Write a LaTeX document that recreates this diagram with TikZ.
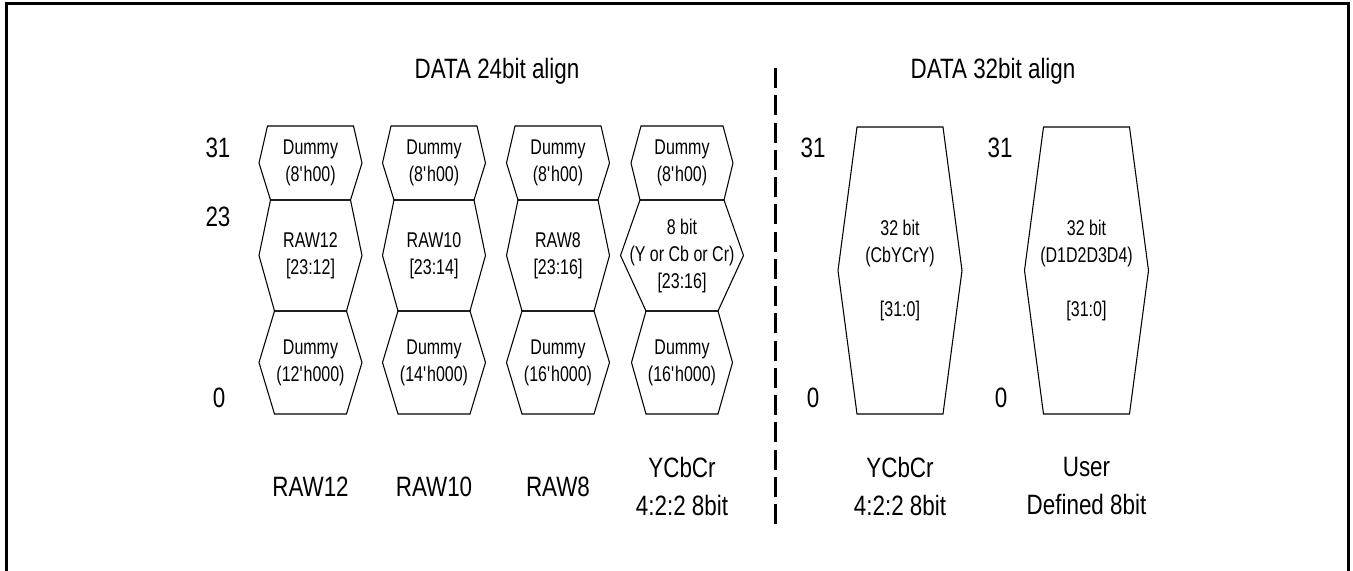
\documentclass[tikz,border=0pt]{standalone}
\usepackage{fontspec}
\setmainfont{Liberation Sans}[FakeStretch=0.8]
\newfontfamily\cellfont{Liberation Sans}[FakeStretch=0.75]
% one hexagonal bit field: name, centre x, top y, bottom y, top half width, bottom half width, tip half width, text
\newcommand{\bitcell}[8]{%
  \draw[cell] (#2-#5,#3) -- (#2+#5,#3) -- (#2+#7,{(#3+#4)/2}) -- (#2+#6,#4) -- (#2-#6,#4) -- (#2-#7,{(#3+#4)/2}) -- cycle;
  \node[celltext] (#1) at (#2,{(#3+#4)/2}) {#8};}
\newcommand{\q}{\textquotesingle}
\begin{document}
\begin{tikzpicture}[x=0.75pt, y=-0.75pt, every node/.style={font=\fontsize{21}{28.5}\selectfont}]
  \tikzstyle{cell}=[draw,line width=0.8pt,line join=miter]
  \tikzstyle{celltext}=[align=center,inner sep=0pt,font=\cellfont\fontsize{16}{20.25}\selectfont]
  \tikzstyle{lbl}=[align=center,inner sep=0pt]
  \useasboundingbox (0,0) rectangle (1353,571);
  \draw[line width=2.25pt] (6,576) -- (6,3.5) -- (1348,3.5) -- (1348,576);
  % titles
  \node[lbl,anchor=base] (t24) at (497,78) {DATA 24bit align};
  \node[lbl,anchor=base] (t32) at (993,78) {DATA 32bit align};
  % separator
  \coordinate (sepTop) at (775,68);
  \coordinate (sepBot) at (775,524);
  \draw[line width=2.25pt,dash pattern=on 15pt off 5.45pt] (sepTop) -- (sepBot);
  % bit numbers
  \node[lbl,anchor=base] (b31) at (218,157) {31};
  \node[lbl,anchor=base] (b23) at (218,226) {23};
  \node[lbl,anchor=base] (b0) at (219,407) {0};
  \node[lbl,anchor=base] (c31) at (813,157) {31};
  \node[lbl,anchor=base] (c0) at (813,407) {0};
  \node[lbl,anchor=base] (d31) at (1000,157) {31};
  \node[lbl,anchor=base] (d0) at (1001,407) {0};
  % RAW12
  \bitcell{r12top}{310.5}{126}{200}{43}{40}{51.5}{Dummy\\(8\q h00)}
  \bitcell{r12mid}{310.5}{200}{311}{40}{36}{51.5}{RAW12\\ {[23:12]}}
  \bitcell{r12bot}{310.5}{311}{414}{36}{36}{51.5}{Dummy\\(12\q h000)}
  % RAW10
  \bitcell{r10top}{434}{126}{200}{43}{40}{51.5}{Dummy\\(8\q h00)}
  \bitcell{r10mid}{434}{200}{311}{40}{36}{51.5}{RAW10\\ {[23:14]}}
  \bitcell{r10bot}{434}{311}{414}{36}{36}{51.5}{Dummy\\(14\q h000)}
  % RAW8
  \bitcell{r8top}{558}{126}{200}{43}{40}{51.5}{Dummy\\(8\q h00)}
  \bitcell{r8mid}{558}{200}{311}{40}{36}{51.5}{RAW8\\ {[23:16]}}
  \bitcell{r8bot}{558}{311}{414}{36}{36}{51.5}{Dummy\\(16\q h000)}
  % YCbCr 24bit
  \bitcell{ytop}{682}{126}{200}{41}{42}{51}{Dummy\\(8\q h00)}
  \bitcell{ymid}{682}{200}{311}{42}{36}{61.5}{8 bit\\(Y or Cb or Cr)\\ {[23:16]}}
  \bitcell{ybot}{682}{311}{414}{36}{36}{50.5}{Dummy\\(16\q h000)}
  % 32bit
  \bitcell{y32}{900}{127}{414}{43}{43}{62}{32 bit\\(CbYCrY)\\[20.25pt] {[31:0]}}
  \bitcell{u32}{1086.5}{127}{414}{43}{43}{62}{32 bit\\(D1D2D3D4)\\[20.25pt] {[31:0]}}
  % format names
  \node[lbl,anchor=base] (n12) at (310.5,496) {RAW12};
  \node[lbl,anchor=base] (n10) at (434,496) {RAW10};
  \node[lbl,anchor=base] (n8) at (558,496) {RAW8};
  \node[lbl] (ny) at (682,486) {YCbCr\\4:2:2 8bit};
  \node[lbl] (ny32) at (900,486) {YCbCr\\4:2:2 8bit};
  \node[lbl] (nu) at (1086.5,486) {User\\Defined 8bit};
\end{tikzpicture}
\end{document}
